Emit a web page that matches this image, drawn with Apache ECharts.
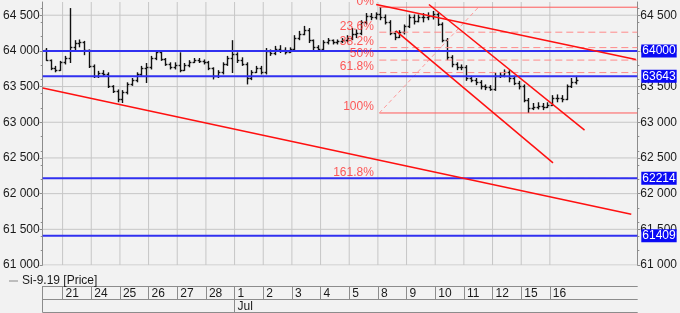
<!DOCTYPE html>
<html><head><meta charset="utf-8">
<script src="https://cdn.jsdelivr.net/npm/echarts@6/dist/echarts.min.js"></script>
<style>html,body{margin:0;padding:0;background:#f2f2f2;}#c{width:680px;height:313px;}</style>
</head><body><div id="c"></div><script>
// ---- data ----
const dayLabels = ['21','24','25','26','27','28','1','2','3','4','5','8','9','10','11','12','15','16'];
const monthLabels = ['Jul'];
const monthStartDay = [6];
const barsPerDay = 6;
const barsBeforeFirstDay = 4; // bars of 20 Jun

const open = [64010,63870,63760,63730,63840,63900,64050,64110,64120,64010,
63790,63650,63690,63670,63510,63440,63320,63420,63530,63590,
63670,63760,63770,63900,63980,63880,63810,63770,63800,63730,
63800,63840,63870,63860,63840,63760,63650,63700,63810,63900,
63950,63870,63810,63620,63700,63760,63700,64000,63970,64020,
64010,63980,64020,64180,64230,64290,64150,64050,64020,64120,
64150,64120,64140,64150,64180,64230,64250,64400,64490,64470,
64510,64470,64400,64250,64190,64260,64350,64470,64420,64470,
64470,64490,64510,64370,64150,63910,63810,63770,63770,63620,
63590,63560,63510,63490,63460,63650,63660,63700,63620,63550,
63510,63310,63200,63210,63230,63210,63240,63340,63340,63320,
63510,63560];
const high = [64040,63880,63790,63860,63930,64600,64150,64160,64140,64020,
63810,63720,63730,63700,63520,63460,63450,63560,63620,63700,
63790,63830,63930,64010,64000,63900,63840,63840,63980,63830,
63870,63900,63900,63880,63860,63770,63730,63840,63930,64150,
63980,63910,63840,63730,63790,63790,64040,64020,64070,64080,
64050,64050,64220,64280,64350,64320,64160,64080,64150,64180,
64160,64160,64180,64220,64320,64300,64430,64530,64530,64540,
64612,64510,64430,64280,64290,64370,64510,64510,64510,64530,
64540,64560,64540,64400,64180,63940,63840,63810,63800,63650,
63620,63590,63530,63520,63690,63700,63740,63730,63650,63580,
63530,63340,63270,63280,63270,63280,63380,63390,63380,63530,
63620,63650];
const low = [63860,63730,63700,63720,63810,63830,64010,64050,63940,63760,
63620,63620,63650,63480,63410,63280,63270,63390,63510,63560,
63650,63550,63740,63870,63860,63790,63740,63740,63700,63720,
63770,63830,63830,63810,63730,63600,63620,63670,63790,63690,
63830,63790,63530,63590,63690,63670,63670,63930,63940,63970,
63950,63970,64000,64150,64220,64110,64010,64000,64010,64090,
64090,64090,64110,64120,64150,64180,64220,64370,64430,64440,
64430,64370,64220,64150,64180,64230,64320,64370,64400,64400,
64430,64440,64350,64120,63870,63770,63730,63730,63580,63560,
63520,63460,63450,63440,63440,63620,63630,63560,63520,63460,
63280,63130,63170,63180,63170,63200,63230,63280,63280,63310,
63480,63530];
const close = [63870,63760,63730,63840,63900,64050,64110,64120,64010,63790,
63650,63690,63670,63510,63440,63320,63420,63530,63590,63670,
63760,63770,63900,63980,63880,63810,63770,63800,63730,63800,
63840,63870,63860,63840,63760,63650,63700,63810,63900,63950,
63870,63810,63620,63700,63760,63700,64000,63970,64020,64010,
63980,64020,64180,64230,64290,64150,64050,64020,64120,64150,
64120,64140,64150,64180,64230,64250,64400,64490,64470,64510,
64470,64400,64250,64190,64260,64350,64470,64420,64470,64470,
64490,64510,64370,64150,63910,63810,63770,63770,63620,63590,
63560,63510,63490,63460,63650,63660,63700,63620,63550,63510,
63310,63200,63210,63230,63210,63240,63340,63340,63320,63510,
63560,63590];

const yTicks = [61000,61500,62000,62500,63000,63500,64000,64500];
const blueLevels = [64000, 63643, 62214, 61409];
const fibStartDay = 11.05;
const fibLevels = [64612, 64262, 64046, 63871, 63696, 63130, 62214];
const fibNames  = ['0%','23.6%','38.2%','50%','61.8%','100%','161.8%'];
const fibSolid  = [true,false,false,false,false,true,false];
const fibDiagonal = [[11.05,63130],[14.51,64612]];
const trendLines = [
  [[-0.694,63480],[19.84,61710]],
  [[10.94,64650],[20.0,63880]],
  [[12.78,64650],[18.21,62890]],
  [[11.63,64280],[17.11,62430]]
];

// ---- chart ----
const X_MIN = -0.694, X_MAX = 20.05, Y_MIN = 61000, Y_MAX = 64685;
const font = '"Liberation Sans", Arial, sans-serif';
const axisGray = '#8c8c8c';
const fmt = v => String(Math.round(v)).replace(/\B(?=(\d{3})+(?!\d))/g, ' ');
const dayTicks = dayLabels.map((_, i) => i);

const bars = open.map((o, i) => [(i - barsBeforeFirstDay + 0.5) / barsPerDay, o, high[i], low[i], close[i]]);

const series = [];
series.push({
  name: 'Si-9.19 [Price]', type: 'custom', z: 3,
  itemStyle: {color: '#777'},
  encode: {x: 0, y: [1, 2, 3, 4]},
  data: bars,
  renderItem: function (params, api) {
    const x = api.value(0);
    const pH = api.coord([x, api.value(2)]);
    const pL = api.coord([x, api.value(3)]);
    const pO = api.coord([x, api.value(1)]);
    const pC = api.coord([x, api.value(4)]);
    const w = api.size([1 / barsPerDay, 0])[0] * 0.4;
    const st = {stroke: '#111', lineWidth: 1.4};
    const cx = Math.round(pH[0]) + 0.5;
    return {type: 'group', children: [
      {type: 'line', shape: {x1: cx, y1: pH[1], x2: cx, y2: pL[1]}, style: st},
      {type: 'line', shape: {x1: cx - w, y1: Math.round(pO[1]) + 0.5, x2: cx, y2: Math.round(pO[1]) + 0.5}, style: st},
      {type: 'line', shape: {x1: cx, y1: Math.round(pC[1]) + 0.5, x2: cx + w, y2: Math.round(pC[1]) + 0.5}, style: st}
    ]};
  }
});

// grid: day boundaries and price levels (solid light grey)
dayTicks.forEach(d => {
  series.push({
    type: 'line', silent: true, z: 1, symbol: 'none', showSymbol: false,
    data: [[d, Y_MIN], [d, Y_MAX]], lineStyle: {color: '#c6c6c6', width: 1}
  });
});
yTicks.forEach(v => {
  series.push({
    type: 'line', silent: true, z: 1, symbol: 'none', showSymbol: false,
    data: [[X_MIN, v], [X_MAX, v]], lineStyle: {color: '#c6c6c6', width: 1}
  });
});

fibLevels.forEach((v, i) => {
  series.push({
    type: 'line', silent: true, z: 4, showSymbol: false, symbol: 'none',
    data: [[fibStartDay, v], [X_MAX, v]],
    lineStyle: fibSolid[i] ? {color: '#ff5a5a', width: 1} : {color: '#ff8a8a', width: 1, type: [7, 4]}
  });
});
series.push({
  type: 'line', silent: true, z: 4, symbol: 'none', data: fibDiagonal,
  lineStyle: {color: '#ff9a9a', width: 1, type: [4, 3]}
});
series.push({
  type: 'scatter', silent: true, z: 6, symbolSize: 1, itemStyle: {color: 'rgba(0,0,0,0)'},
  data: fibLevels.map((v, i) => ({value: [fibStartDay, v], name: fibNames[i]})),
  label: {show: true, position: 'left', distance: 5, offset: [0, -6], formatter: '{b}',
    color: '#ff3030', fontSize: 12, fontFamily: font}
});
blueLevels.forEach(v => {
  series.push({
    type: 'line', silent: true, z: 5, symbol: 'none', showSymbol: false,
    data: [[X_MIN, v], [X_MAX, v]],
    lineStyle: {color: '#3030f0', width: 2},
    endLabel: {show: true, formatter: () => String(v), color: '#ffffff', backgroundColor: '#0a0af5',
      padding: [1, 1, 0, 1], distance: 4, fontSize: 12, fontFamily: font}
  });
});
trendLines.forEach(d => {
  series.push({
    type: 'line', silent: true, z: 6, symbol: 'none', data: d,
    lineStyle: {color: '#ff1010', width: 1.5}
  });
});

const yAxisBase = {
  type: 'value', min: Y_MIN, max: Y_MAX,
  axisLine: {show: true, onZero: false, lineStyle: {color: axisGray}},
  axisTick: {show: true, customValues: yTicks, length: 3, lineStyle: {color: axisGray}},
  minorTick: {show: true, splitNumber: 5, length: 2, lineStyle: {color: axisGray}},
  axisLabel: {customValues: yTicks, formatter: fmt, margin: 3, fontSize: 12, color: '#1a1a1a', fontFamily: font},
  splitLine: {show: false}
};

const option = {
  animation: false,
  backgroundColor: '#f2f2f2',
  textStyle: {fontFamily: font},
  grid: {left: 39, right: 42, top: 2, bottom: 48},
  legend: {
    data: [{name: 'Si-9.19 [Price]', icon: 'rect'}],
    left: 4, top: 270, itemWidth: 9, itemHeight: 1, itemGap: 4, selectedMode: false,
    itemStyle: {color: '#888'},
    textStyle: {fontSize: 12, color: '#1a1a1a', fontFamily: font, padding: [0, 0, 0, -1]}
  },
  xAxis: [
    {type: 'value', min: X_MIN, max: X_MAX, position: 'bottom', offset: 21,
      axisLine: {show: true, onZero: false, lineStyle: {color: axisGray}},
      axisTick: {show: true, customValues: [X_MIN].concat(dayTicks), length: 13, lineStyle: {color: axisGray}},
      axisLabel: {show: true, customValues: dayTicks, formatter: v => dayLabels[Math.round(v)],
        align: 'left', margin: 2, padding: [0, 0, 0, 3], fontSize: 12, color: '#1a1a1a', fontFamily: font},
      splitLine: {show: false}},
    {type: 'value', min: X_MIN, max: X_MAX, position: 'bottom', offset: 34,
      axisLine: {show: true, onZero: false, lineStyle: {color: axisGray}},
      axisTick: {show: true, customValues: [X_MIN].concat(monthStartDay), length: 13, lineStyle: {color: axisGray}},
      axisLabel: {show: true, customValues: monthStartDay, formatter: v => monthLabels[monthStartDay.indexOf(Math.round(v))] || '',
        align: 'left', margin: 2, padding: [0, 0, 0, 3], fontSize: 12, color: '#1a1a1a', fontFamily: font},
      splitLine: {show: false}},
    {type: 'value', min: X_MIN, max: X_MAX, position: 'bottom', offset: 47,
      axisLine: {show: true, onZero: false, lineStyle: {color: axisGray}},
      axisTick: {show: false}, axisLabel: {show: false}, splitLine: {show: false}}
  ],
  yAxis: [
    Object.assign({}, yAxisBase, {position: 'left'}),
    Object.assign({}, yAxisBase, {position: 'right'})
  ],
  series: series
};
const chart = echarts.init(document.getElementById('c'), null, {renderer: 'canvas'});
chart.setOption(option);
</script></body></html>
